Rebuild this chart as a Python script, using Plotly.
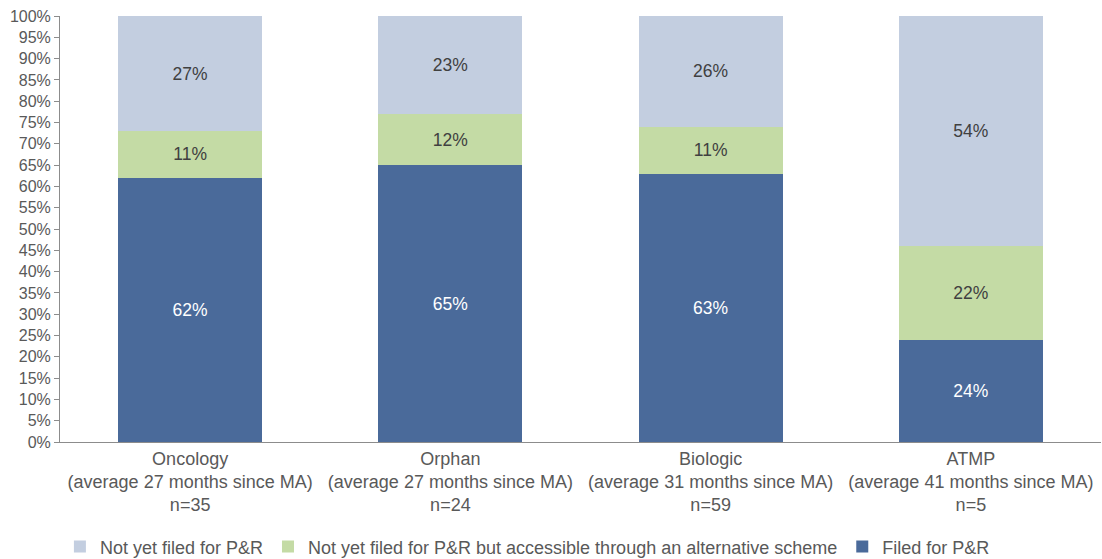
import plotly.graph_objects as go

categories = [
    "Oncology<br>(average 27 months since MA)<br>n=35",
    "Orphan<br>(average 27 months since MA)<br>n=24",
    "Biologic<br>(average 31 months since MA)<br>n=59",
    "ATMP<br>(average 41 months since MA)<br>n=5",
]
filed = [62, 65, 63, 24]
alt_scheme = [11, 12, 11, 22]
not_filed = [27, 23, 26, 54]

series = [
    ("Filed for P&R", filed, "#4A6A9A", "white"),
    ("Not yet filed for P&R but accessible through an alternative scheme", alt_scheme, "#C4DBA5", "#404040"),
    ("Not yet filed for P&R", not_filed, "#C3CEE0", "#404040"),
]

fig = go.Figure()
for name, vals, color, tcolor in series:
    fig.add_trace(go.Bar(
        x=categories, y=vals, name=name,
        marker=dict(color=color, line=dict(width=0)),
        text=[f"{v}%" for v in vals],
        textposition="inside", insidetextanchor="middle",
        textfont=dict(color=tcolor, size=17.5, family="Liberation Sans, Arial"),
        hoverinfo="skip",
    ))

fig.update_layout(
    barmode="stack",
    bargap=0.446,
    width=1102, height=559,
    margin=dict(l=60, r=1, t=16, b=117, autoexpand=False),
    plot_bgcolor="white", paper_bgcolor="white",
    font=dict(family="Liberation Sans, Arial", color="#595959"),
    uniformtext=dict(mode="show", minsize=10),
    legend=dict(
        orientation="h", x=0.449, xanchor="center", y=-0.246, yanchor="middle",
        traceorder="reversed", font=dict(size=18, color="#595959"),
    ),
    xaxis=dict(
        showline=True, linecolor="#8C8C8C", linewidth=1,
        ticks="", tickfont=dict(size=18, color="#595959"),
        showgrid=False, automargin=False,
    ),
    yaxis=dict(
        range=[0, 100], dtick=5, ticksuffix="%",
        showline=True, linecolor="#8C8C8C", linewidth=1,
        ticks="outside", ticklen=5, tickcolor="#8C8C8C",
        tickfont=dict(size=16, color="#595959"),
        showgrid=False, zeroline=False, automargin=False,
    ),
)

fig.write_html(
    "out.html",
    config={"displayModeBar": False},
    post_script="document.body.style.margin='0px';document.body.style.overflow='hidden';",
)
